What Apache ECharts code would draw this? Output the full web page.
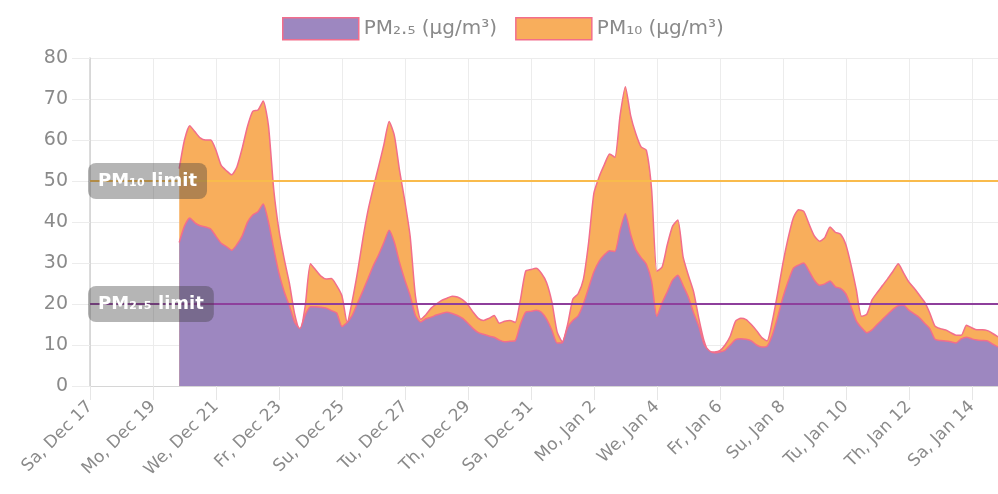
<!DOCTYPE html>
<html><head><meta charset="utf-8">
<script src="https://cdn.jsdelivr.net/npm/echarts@6/dist/echarts.min.js"></script>
<style>html,body{margin:0;padding:0;background:#fff}#c{width:998px;height:494px}</style>
</head><body><div id="c"></div>
<script>
// x axis: hours since Sa, Dec 17 00:00; ticks every 2 days
const tickLabels = ['Sa, Dec 17','Mo, Dec 19','We, Dec 21','Fr, Dec 23','Su, Dec 25','Tu, Dec 27','Th, Dec 29','Sa, Dec 31','Mo, Jan 2','We, Jan 4','Fr, Jan 6','Su, Jan 8','Tu, Jan 10','Th, Jan 12','Sa, Jan 14'];
const startHour = 68;   // Dec 19, 20:00
const stepHours = 4;
const endHour = 692;    // Jan 14, 20:00
const yTicks = [0, 10, 20, 30, 40, 50, 60, 70, 80];

const pm10 = [53,60,63.5,62,60.5,60,60,57.5,53.8,52.5,
51.5,53.5,58,63.3,67,67.3,69.5,63.5,48,38,
31,25,17.5,13.2,19.5,29.8,28.3,26.8,26.1,26.2,
24.5,22,15.5,21,28,36,43,48.5,53.6,58.9,
64.5,61,52.4,45,36.5,22,16.3,17.4,19,20,
20.9,21.4,21.9,21.7,21,19.8,18,16.5,16,16.5,
17.2,15.3,15.8,16,15.5,21,28,28.4,28.7,27.5,
25.2,20.5,13.2,10.8,15,21.2,22.5,26,35,47,
51,54,56.6,55.8,66,73,66,61.5,58.3,57.5,
48,28,29,34.5,39,40.5,31.5,27,23,16.5,
11,8.3,8.3,8.6,10,12.2,15.8,16.5,16.2,15,
13.5,11.8,11,15.8,22.5,29.8,36,41,43,42.6,
39.5,36.6,35.3,36.2,38.8,37.5,37,34.5,29.5,23.5,
17,17.5,21,22.8,24.5,26.2,28,29.8,27.6,25.4,
23.9,22.2,20.5,17.8,14.6,14,13.7,13,12.4,12.4,
14.8,14.2,13.7,13.7,13.5,12.8,12];

const pm25 = [35,39,41,39.8,39.1,38.8,38.3,36.5,34.8,34,
33.1,34.5,36.6,39.9,41.7,42.5,44.4,40,33.5,27.5,
23,19.5,15.5,14,17.3,19.3,19.3,19.2,19,18.4,
17.8,14.5,15.5,17.3,20.3,23.2,26.3,29.4,32,35,
38,35,30,25.8,22,17.2,15.6,16.4,16.8,17.3,
17.7,18,17.7,17.2,16.5,15.3,14,13,12.6,12.2,
11.9,11.2,10.8,10.9,11,15,18,18.2,18.5,18,
16.3,13.6,10.5,10.6,14.3,16,17.1,20,23.9,27.8,
30.4,32,33,32.8,38,42,37,33.2,31.3,29.7,
25.5,17,20.3,23,25.8,27,24.5,21.7,17.8,14.5,
10.2,8.6,8.1,8.3,8.7,10,11.3,11.5,11.4,11,
10,9.5,9.7,12.4,16.7,21.5,25.4,28.7,29.5,30,
28,25.8,24.6,24.9,25.6,24.2,23.8,22.5,19.4,15.9,
14.2,13,13.7,15,16.3,17.5,18.7,19.6,19.7,18.5,
17.6,16.7,15.3,14,11.4,11.1,11,10.8,10.5,11.5,
11.9,11.5,11.2,11.1,11,10.2,9.5];

const limitPM10 = 50;
const limitPM25 = 20;
const namePM25 = 'PM\u2082.\u2085 (\u00b5g/m\u00b3)';
const namePM10 = 'PM\u2081\u2080 (\u00b5g/m\u00b3)';
const labelPM10 = 'PM\u2081\u2080 limit';
const labelPM25 = 'PM\u2082.\u2085 limit';

const FONT = 'DejaVu Sans';
const TXT = '#8a8a8a';
const PINK = 'rgb(242,110,140)';
const toPairs = arr => arr.map((v, i) => [startHour + i * stepHours, v]);

const chart = echarts.init(document.getElementById('c'));
chart.setOption({
  animation: false,
  textStyle: { fontFamily: FONT },
  legend: {
    data: [namePM25, namePM10],
    top: 12, left: 277,
    icon: 'rect', itemWidth: 76, itemHeight: 22, itemGap: 18,
    itemStyle: { borderColor: PINK, borderWidth: 1.5 },
    textStyle: { color: TXT, fontSize: 20, fontFamily: FONT },
    selectedMode: false
  },
  grid: { left: 90, right: 0, top: 58, bottom: 108 },
  xAxis: {
    type: 'value', min: 0, max: endHour, interval: 48,
    axisLine: { show: true, lineStyle: { color: '#d6d6d6' } },
    axisTick: { show: true, length: 14, lineStyle: { color: '#e6e6e6' } },
    splitLine: { show: true, lineStyle: { color: '#ececec' } },
    axisLabel: {
      rotate: 45, margin: 18, color: TXT, fontSize: 17, fontFamily: FONT,
      showMaxLabel: false,
      formatter: v => (v % 48 === 0 && tickLabels[v / 48]) ? tickLabels[v / 48] : ''
    }
  },
  yAxis: {
    type: 'value', min: yTicks[0], max: yTicks[yTicks.length - 1], interval: 10,
    axisLine: { show: true, lineStyle: { color: '#d0d0d0', width: 1.5 } },
    axisTick: { show: true, length: 18, lineStyle: { color: '#ececec' } },
    splitLine: { show: true, lineStyle: { color: '#ececec' } },
    axisLabel: { margin: 22, color: TXT, fontSize: 19, fontFamily: FONT }
  },
  series: [
    {
      name: namePM10, type: 'line', data: toPairs(pm10),
      color: '#f8ae5c', showSymbol: false, smooth: 0.2, z: 2,
      lineStyle: { color: PINK, width: 1.5 },
      areaStyle: { color: '#f8ae5c', opacity: 1 },
      emphasis: { disabled: true }
    },
    {
      name: namePM25, type: 'line', data: toPairs(pm25),
      color: '#9d87c0', showSymbol: false, smooth: 0.2, z: 3,
      lineStyle: { color: PINK, width: 1.5 },
      areaStyle: { color: '#9d87c0', opacity: 1 },
      emphasis: { disabled: true },
      markLine: {
        silent: true, symbol: ['none', 'none'], animation: false,
        emphasis: { disabled: true },
        label: {
          show: true, position: 'insideStartTop', distance: [-2, 0], verticalAlign: 'middle',
          backgroundColor: 'rgba(60,60,60,0.38)', color: '#fff', fontWeight: 'bold',
          fontSize: 18, fontFamily: FONT, padding: [9, 10, 9, 10], borderRadius: 8
        },
        data: [
          { yAxis: limitPM10, lineStyle: { color: '#f9bb4c', width: 2, type: 'solid' }, label: { formatter: labelPM10 } },
          { yAxis: limitPM25, lineStyle: { color: '#8e3f9c', width: 2, type: 'solid' }, label: { formatter: labelPM25 } }
        ]
      }
    }
  ]
});
</script></body></html>
